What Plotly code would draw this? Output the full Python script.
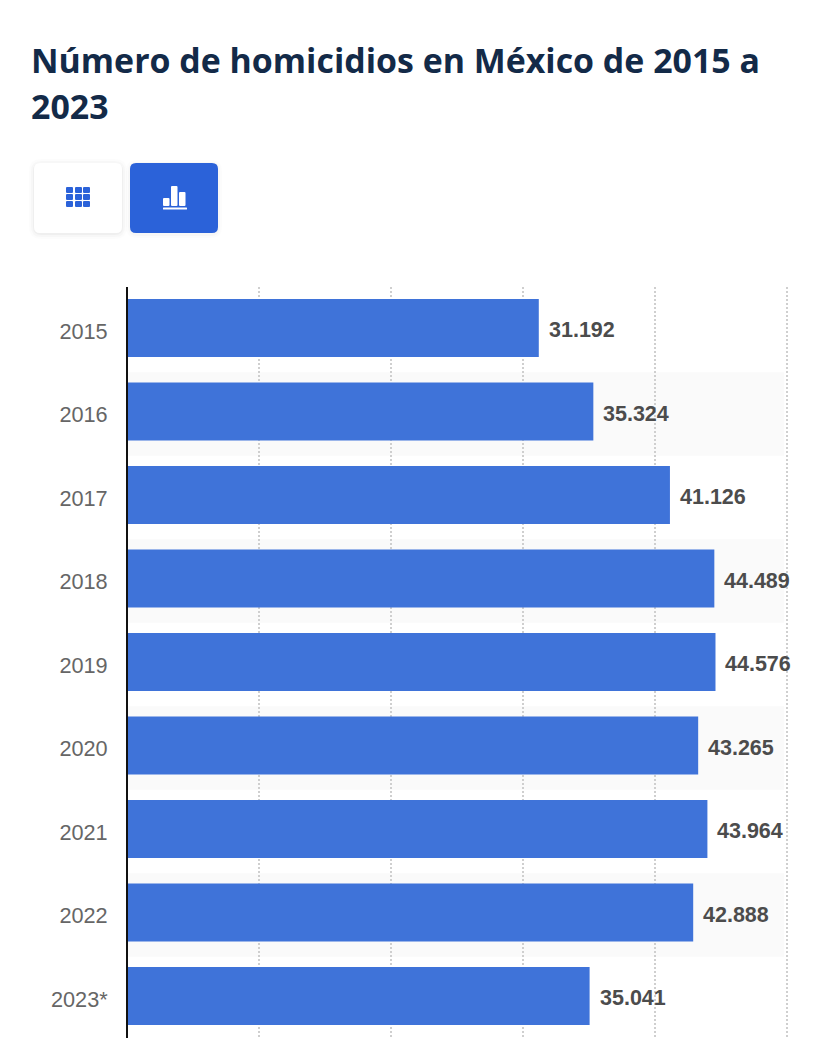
import plotly.graph_objects as go

# Chart data
years = ["2015", "2016", "2017", "2018", "2019", "2020", "2021", "2022", "2023*"]
homicides = [31192, 35324, 41126, 44489, 44576, 43265, 43964, 42888, 35041]
title_lines = ["Número de homicidios en México de 2015 a", "2023"]
value_ticks = [0, 10000, 20000, 30000, 40000, 50000]

# Page and plot geometry in pixels
W, H = 828, 1044
PL, PR, PT, PB = 128, 790, 287, 1038
X_RANGE = [76, 50220]

BAR_BLUE = "#3f73d9"
BUTTON_BLUE = "#2b62d9"


def px(x):
    return (x - PL) / (PR - PL)


def py(y):
    return 1 - (y - PT) / (PB - PT)


def rounded(x0, y0, x1, y1, r, **style):
    """Rounded rectangle given in page pixels."""
    path = (
        f"M {px(x0 + r)} {py(y0)} L {px(x1 - r)} {py(y0)} "
        f"Q {px(x1)} {py(y0)} {px(x1)} {py(y0 + r)} L {px(x1)} {py(y1 - r)} "
        f"Q {px(x1)} {py(y1)} {px(x1 - r)} {py(y1)} L {px(x0 + r)} {py(y1)} "
        f"Q {px(x0)} {py(y1)} {px(x0)} {py(y1 - r)} L {px(x0)} {py(y0 + r)} "
        f"Q {px(x0)} {py(y0)} {px(x0 + r)} {py(y0)} Z"
    )
    return dict(type="path", xref="paper", yref="paper", path=path,
                line=dict(width=0), **style)


shapes = []

# Zebra bands behind every second row
for i in range(1, len(years), 2):
    shapes.append(dict(type="rect", xref="x", yref="y", layer="below",
                       x0=X_RANGE[0], x1=49780, y0=i - 0.47, y1=i + 0.53,
                       fillcolor="#fafafa", line=dict(width=0)))

# Table / chart toggle buttons
for grow, alpha in ((5, 0.012), (3, 0.018), (1, 0.03)):
    shapes.append(rounded(34 - grow, 163 - grow + 1, 122 + grow, 233 + grow + 1, 7 + grow,
                          fillcolor=f"rgba(0,0,0,{alpha})"))
shapes.append(rounded(34, 163, 122, 233, 6, fillcolor="#ffffff"))
for grow, alpha in ((4, 0.012), (2, 0.018)):
    shapes.append(rounded(130 - grow, 163 - grow + 1, 218 + grow, 233 + grow + 1, 7 + grow,
                          fillcolor=f"rgba(0,0,0,{alpha})"))
shapes.append(rounded(130, 163, 218, 233, 6, fillcolor=BUTTON_BLUE))

# Table icon
for row_top in (187, 194, 201):
    for col_left in (66, 75, 83):
        shapes.append(rounded(col_left, row_top, col_left + 7, row_top + 6, 1,
                              fillcolor=BUTTON_BLUE))

# Bar chart icon
for left, top in ((163, 198), (171, 186), (179, 192)):
    shapes.append(rounded(left, top, left + 6.5, 206, 1, fillcolor="#ffffff"))
shapes.append(rounded(163, 207.5, 187, 209.5, 0.5, fillcolor="#ffffff"))

annotations = [
    dict(xref="paper", yref="paper", x=px(28.5), y=py(y), text=f"<b>{line}</b>",
         xanchor="left", yanchor="middle", showarrow=False, align="left",
         font=dict(family="Open Sans", size=33.9, color="#132a48"))
    for line, y in zip(title_lines, (60, 106))
]

# Value labels at the end of each bar
for row, value in enumerate(homicides):
    annotations.append(dict(
        xref="x", yref="y", x=value, y=row,
        text="<b>" + f"{value:,}".replace(",", ".") + "</b>",
        xanchor="left", yanchor="middle", xshift=8, yshift=-2,
        showarrow=False,
        font=dict(family="Liberation Sans", size=21.5, color="#4c4c4c"),
    ))

fig = go.Figure(go.Bar(
    x=homicides, y=years, orientation="h",
    width=0.695, marker=dict(color=BAR_BLUE, line=dict(width=0)),
    hoverinfo="x+y",
))

fig.update_layout(
    width=W, height=H, autosize=False,
    margin=dict(l=PL, r=W - PR, t=PT, b=H - PB, pad=0),
    paper_bgcolor="#ffffff", plot_bgcolor="rgba(0,0,0,0)",
    showlegend=False, shapes=shapes, annotations=annotations,
)
fig.update_xaxes(
    range=X_RANGE, tickvals=value_ticks, showticklabels=False,
    showgrid=True, gridcolor="#cfcfcf", gridwidth=2, griddash="2px,2px",
    zeroline=False, showline=False,
)
fig.update_yaxes(
    type="category", categoryorder="array", categoryarray=years,
    range=[8.503, -0.491], showgrid=False, zeroline=False,
    showline=True, linecolor="#111111", linewidth=2,
    ticks="", ticklabelstandoff=14, ticklabelshift=-3,
    tickfont=dict(family="Liberation Sans", size=21.7, color="#666666"),
)

fig.write_html("out.html")
